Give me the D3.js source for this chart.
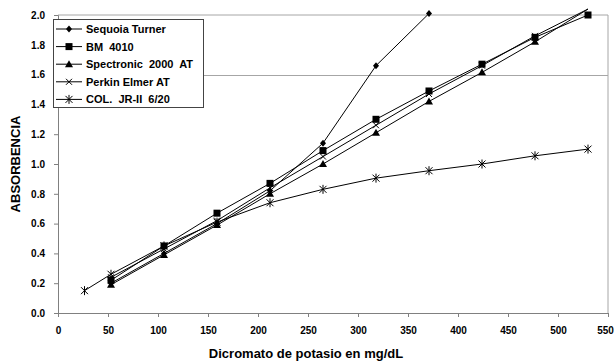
<!DOCTYPE html>
<html>
<head>
<meta charset="utf-8">
<script src="https://cdn.jsdelivr.net/npm/d3@7"></script>
<style>
  body { margin: 0; background: #fff; }
  text { font-family: "Liberation Sans", Arial, sans-serif; font-weight: bold; white-space: pre; }
</style>
</head>
<body>
<svg id="chart"></svg>
<script>
const width = 614;
const height = 362;

// concentrations (mg/dL)
const xFull = [53, 106, 159, 212, 265, 318, 371, 424, 477, 530];
const xSequoia = [53, 106, 159, 212, 265, 318, 371];
const xCol = [26.5, 53, 106, 159, 212, 265, 318, 371, 424, 477, 530];

const sequoiaTurner = [0.20, 0.40, 0.60, 0.82, 1.14, 1.66, 2.01];
const bm4010 = [0.22, 0.45, 0.67, 0.87, 1.09, 1.30, 1.49, 1.67, 1.85, 2.00];
const spectronic = [0.19, 0.39, 0.59, 0.80, 1.00, 1.21, 1.42, 1.615, 1.82, 2.04];
const perkinElmer = [0.24, 0.43, 0.62, 0.84, 1.05, 1.26, 1.47, 1.66, 1.86, 2.04];
const colJr = [0.15, 0.26, 0.45, 0.61, 0.74, 0.83, 0.905, 0.955, 1.00, 1.055, 1.10];

const xTicks = [0, 50, 100, 150, 200, 250, 300, 350, 400, 450, 500, 550];
const yTicks = [0, 0.2, 0.4, 0.6, 0.8, 1.0, 1.2, 1.4, 1.6, 1.8, 2.0];
const gridValues = [1.6];

const series = [
  { name: "Sequoia Turner", xs: xSequoia, ys: sequoiaTurner, marker: "diamond" },
  { name: "BM  4010", xs: xFull, ys: bm4010, marker: "square" },
  { name: "Spectronic  2000  AT", xs: xFull, ys: spectronic, marker: "triangle" },
  { name: "Perkin Elmer AT", xs: xFull, ys: perkinElmer, marker: "cross" },
  { name: "COL.  JR-II  6/20", xs: xCol, ys: colJr, marker: "star" }
];

const margin = { left: 58, right: 6, top: 15, bottom: 49 };

const x = d3.scaleLinear().domain([0, 550]).range([margin.left, width - margin.right]);
const y = d3.scaleLinear().domain([0, 2]).range([height - margin.bottom, margin.top]);

const svg = d3.select("#chart").attr("width", width).attr("height", height);

// plot border (top, right) and gridline
svg.append("path")
  .attr("d", `M${x(0)},${y(2)}H${x(550)}V${y(0)}`)
  .style("fill", "none")
  .style("stroke", "#a6a6a6");

svg.append("g")
  .selectAll("line")
  .data(gridValues)
  .join("line")
  .attr("x1", x(0)).attr("x2", x(550))
  .attr("y1", d => Math.round(y(d)) + 0.5).attr("y2", d => Math.round(y(d)) + 0.5)
  .style("stroke", "#a6a6a6");

// axes
const xAxis = svg.append("g")
  .attr("transform", `translate(0,${y(0)})`)
  .call(d3.axisBottom(x).tickValues(xTicks).tickSize(4).tickPadding(10).tickFormat(d3.format("d")));
const yAxis = svg.append("g")
  .attr("transform", `translate(${x(0)},0)`)
  .call(d3.axisLeft(y).tickValues(yTicks).tickSize(4).tickPadding(9).tickFormat(d3.format(".1f")));

[xAxis, yAxis].forEach(g => {
  g.select(".domain").style("stroke", "#808080");
  g.selectAll(".tick line").style("stroke", "#808080");
  g.selectAll(".tick text")
    .style("font-family", "'Liberation Sans', Arial, sans-serif")
    .style("font-weight", "bold")
    .style("font-size", "10px")
    .style("fill", "#000");
});
// keep the last label inside the window
xAxis.selectAll(".tick text").filter(d => d === 550).attr("dx", -3);

// axis titles
svg.append("text")
  .attr("x", 306).attr("y", 358)
  .attr("text-anchor", "middle")
  .style("font-size", "13px")
  .text("Dicromato de potasio en mg/dL");

svg.append("text")
  .attr("transform", `translate(20,${(y(0) + y(2)) / 2}) rotate(-90)`)
  .attr("text-anchor", "middle")
  .style("font-size", "13px")
  .text("ABSORBENCIA");

// markers
function drawMarker(g, type, cx, cy) {
  if (type === "diamond") {
    g.append("path").attr("d", `M${cx},${cy - 3.5}L${cx + 3},${cy}L${cx},${cy + 3.5}L${cx - 3},${cy}Z`).style("fill", "#000");
  } else if (type === "square") {
    g.append("rect").attr("x", cx - 3.5).attr("y", cy - 3.5).attr("width", 7).attr("height", 7).style("fill", "#000");
  } else if (type === "triangle") {
    g.append("path").attr("d", `M${cx},${cy - 4}L${cx + 4},${cy + 3}L${cx - 4},${cy + 3}Z`).style("fill", "#000");
  } else if (type === "cross") {
    g.append("path").attr("d", `M${cx - 3},${cy - 3}L${cx + 3},${cy + 3}M${cx - 3},${cy + 3}L${cx + 3},${cy - 3}`)
      .style("stroke", "#000").style("stroke-width", 1);
  } else if (type === "star") {
    g.append("path").attr("d", `M${cx - 3.5},${cy - 3.5}L${cx + 3.5},${cy + 3.5}M${cx - 3.5},${cy + 3.5}L${cx + 3.5},${cy - 3.5}M${cx},${cy - 4.5}V${cy + 4.5}`)
      .style("stroke", "#000").style("stroke-width", 1);
  }
}

const line = d3.line().x(d => x(d[0])).y(d => y(d[1]));

series.forEach(s => {
  const pts = s.xs.map((v, i) => [v, s.ys[i]]);
  svg.append("path")
    .datum(pts)
    .attr("d", line)
    .style("fill", "none")
    .style("stroke", "#000")
    .style("stroke-width", 1);
});

series.forEach(s => {
  const g = svg.append("g");
  s.xs.forEach((v, i) => {
    if (s.ys[i] <= 2.02) drawMarker(g, s.marker, x(v), y(s.ys[i]));
  });
});

// legend
const legend = svg.append("g");
legend.append("rect")
  .attr("x", 53.5).attr("y", 19.5).attr("width", 150).attr("height", 88)
  .style("fill", "#fff")
  .style("stroke", "#444");

series.forEach((s, i) => {
  const ly = 29 + i * 17.6;
  legend.append("line")
    .attr("x1", 56).attr("x2", 82).attr("y1", ly).attr("y2", ly)
    .style("stroke", "#000");
  drawMarker(legend, s.marker, 69, ly);
  legend.append("text")
    .attr("x", 86).attr("y", ly + 4)
    .style("font-size", "11px")
    .text(s.name);
});
</script>
</body>
</html>
